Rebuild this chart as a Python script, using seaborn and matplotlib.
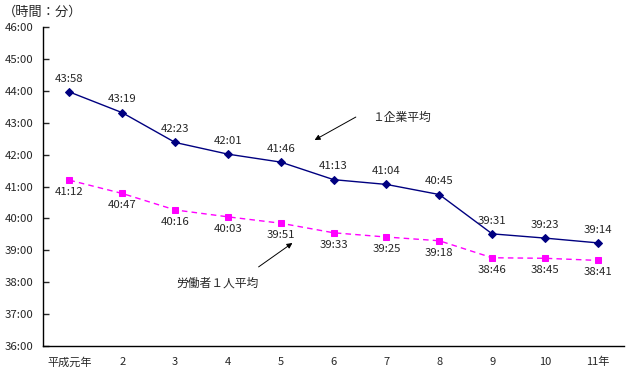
import matplotlib
matplotlib.use("Agg")
import matplotlib.pyplot as plt
import pandas as pd
import seaborn as sns

years = ["平成元年", "2", "3", "4", "5", "6", "7", "8", "9", "10", "11年"]
company_avg = ["43:58", "43:19", "42:23", "42:01", "41:46", "41:13", "41:04", "40:45", "39:31", "39:23", "39:14"]
worker_avg = ["41:12", "40:47", "40:16", "40:03", "39:51", "39:33", "39:25", "39:18", "38:46", "38:45", "38:41"]
y_ticks = [36, 37, 38, 39, 40, 41, 42, 43, 44, 45, 46]


def to_hours(s):
    h, m = s.split(":")
    return int(h) + int(m) / 60


def main():
    sns.set_style("white")
    plt.rcParams["font.family"] = ["Noto Sans CJK JP", "DejaVu Sans"]

    df = pd.DataFrame({
        "pos": range(len(years)),
        "company": [to_hours(v) for v in company_avg],
        "worker": [to_hours(v) for v in worker_avg],
    })

    fig = plt.figure(figsize=(6.28, 3.72), dpi=100)
    ax = fig.add_axes([0.0685, 0.07, 0.9255, 0.857])

    sns.lineplot(data=df, x="pos", y="company", ax=ax, color="#000080",
                 marker="D", markersize=4.0, markeredgecolor="#000080", lw=1.0)
    sns.lineplot(data=df, x="pos", y="worker", ax=ax, color="#FF00FF",
                 marker="s", markersize=4.6, markeredgecolor="#FF00FF", lw=1.0,
                 linestyle=(0, (4, 3)))

    # data labels: company above, worker below
    for i, row in df.iterrows():
        ax.annotate(company_avg[i], (row["pos"], row["company"]), xytext=(0, 6),
                    textcoords="offset points", ha="center", va="bottom", fontsize=8.2)
        ax.annotate(worker_avg[i], (row["pos"], row["worker"]), xytext=(0, -5),
                    textcoords="offset points", ha="center", va="top", fontsize=8.2)

    ax.set_xlim(-0.5, len(years) - 0.5)
    ax.set_ylim(36, 46)
    ax.set_xticks(range(len(years)))
    ax.set_xticklabels(years, fontsize=8)
    ax.set_yticks(y_ticks)
    ax.set_yticklabels([f"{t}:00" for t in y_ticks], fontsize=8.2)
    ax.tick_params(axis="x", length=0, pad=8)
    ax.tick_params(axis="y", length=4, width=1, direction="in", left=True, pad=7)
    ax.set_xlabel("")
    ax.set_ylabel("")

    for side in ["top", "right"]:
        ax.spines[side].set_visible(False)
    for side in ["left", "bottom"]:
        ax.spines[side].set_color("black")
        ax.spines[side].set_linewidth(1.0)

    # series callouts
    arrow = dict(arrowstyle="-|>", color="black", lw=0.7,
                 shrinkA=0, shrinkB=0, mutation_scale=8)
    ax.annotate("", xy=(4.64, 42.46), xytext=(5.42, 43.18), arrowprops=arrow)
    ax.text(5.72, 43.18, "１企業平均", fontsize=8.5, ha="left", va="center")
    ax.annotate("", xy=(4.22, 39.23), xytext=(3.58, 38.48), arrowprops=arrow)
    ax.text(2.03, 37.97, "労働者１人平均", fontsize=8.5, ha="left", va="center")

    fig.text(0.005, 0.985, "（時間：分）", fontsize=9.5, ha="left", va="top")

    fig.savefig("out.png", dpi=100)


if __name__ == "__main__":
    main()
